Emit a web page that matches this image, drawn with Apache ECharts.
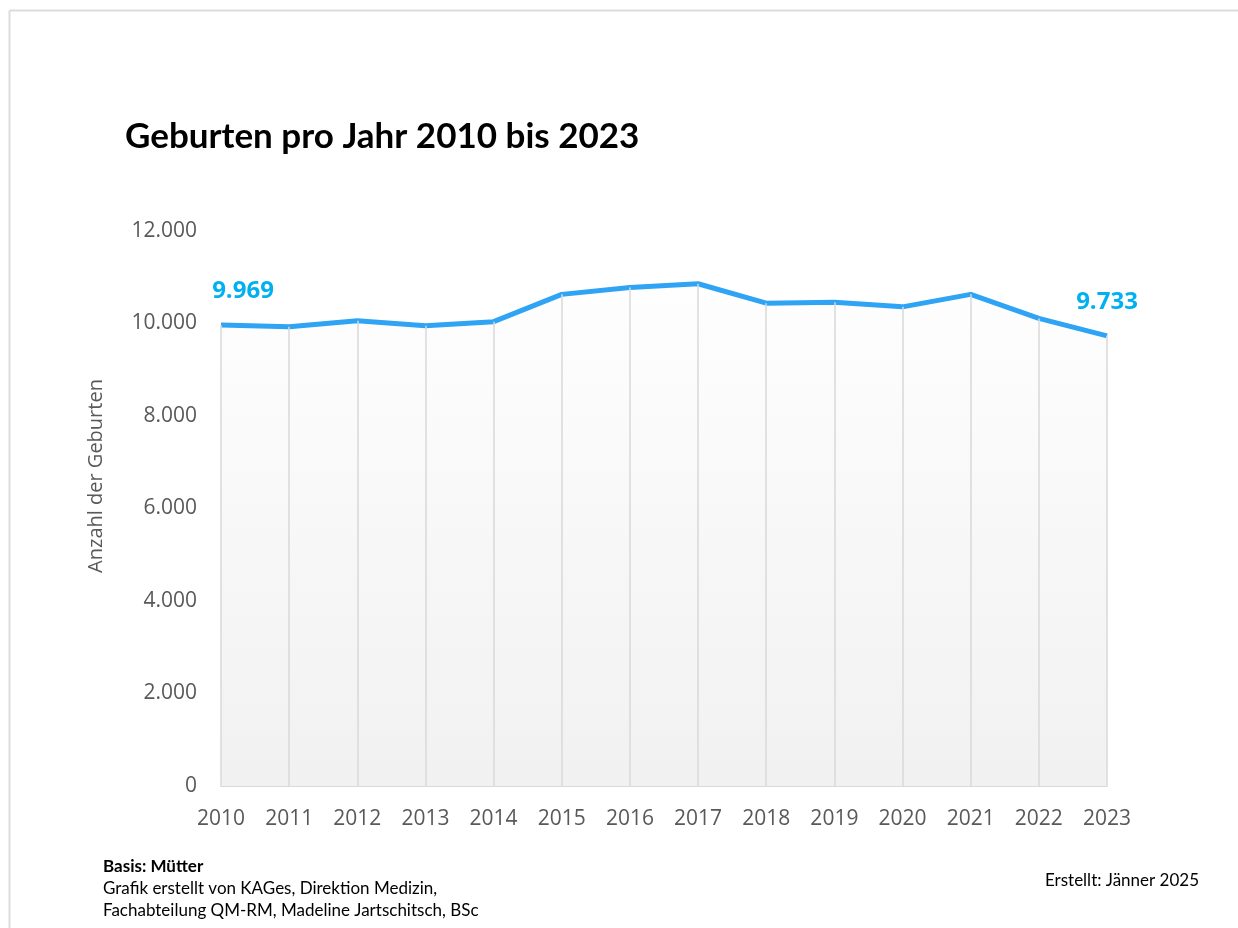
<!DOCTYPE html>
<html>
<head>
<meta charset="utf-8">
<script src="https://cdn.jsdelivr.net/npm/echarts@6/dist/echarts.min.js"></script>
<style>
html,body{margin:0;padding:0;background:#fff;}
#chart{width:1238px;height:928px;}
</style>
</head>
<body>
<div id="chart"></div>
<script>
const years = ['2010','2011','2012','2013','2014','2015','2016','2017','2018','2019','2020','2021','2022','2023'];
const births = [9969, 9930, 10060, 9950, 10040, 10630, 10780, 10860, 10440, 10460, 10360, 10630, 10110, 9733];
const yTicks = [0, 2000, 4000, 6000, 8000, 10000, 12000];
const labeledIdx = [0, 13];

const FONT_T = 'Lato, sans-serif';
const FONT = '"Open Sans", sans-serif';
function fmt(v){ return String(v).replace(/\B(?=(\d{3})+(?!\d))/g, '.'); }

const chart = echarts.init(document.getElementById('chart'), null, {renderer:'canvas'});

const lineData = births.map((v,i)=>{
  const d = {value:v};
  if (labeledIdx.includes(i)) {
    d.label = {
      show:true, position:'top', distance:22,
      offset: i===0 ? [22,0] : [0,0],
      formatter: p => fmt(p.value),
      color:'#00b0f0', fontSize:24, fontWeight:'bold', fontFamily:FONT
    };
  }
  return d;
});

const dropLines = births.map((v,i)=>[
  {coord:[i,0]},
  {coord:[i,v]}
]);

chart.setOption({
  animation:false,
  backgroundColor:'#ffffff',
  grid:{left:221, right:131, top:231, bottom:142},
  xAxis:{
    type:'category', data:years, boundaryGap:false,
    axisLine:{show:true, lineStyle:{color:'#d9d9d9', width:1}},
    axisTick:{show:false},
    splitLine:{show:false},
    axisLabel:{color:'#595959', fontSize:21, fontFamily:FONT, margin:23}
  },
  yAxis:{
    type:'value', min:yTicks[0], max:yTicks[yTicks.length-1], interval:2000,
    axisLine:{show:false}, axisTick:{show:false},
    splitLine:{show:false},
    axisLabel:{color:'#595959', fontSize:21, fontFamily:FONT, margin:24, padding:[4,0,0,0], formatter:v=>fmt(v)}
  },
  series:[
    {
      type:'line', data:births, symbol:'none', z:1, silent:true,
      lineStyle:{width:0, opacity:0},
      areaStyle:{
        color:new echarts.graphic.LinearGradient(0,0,0,1,[
          {offset:0,color:'#fefefe'},{offset:1,color:'#f1f1f1'}
        ]),
        opacity:1
      }
    },
    {
      type:'line', data:births, symbol:'none', z:2, silent:true,
      lineStyle:{width:0, opacity:0},
      markLine:{
        silent:true, symbol:['none','none'],
        label:{show:false},
        lineStyle:{color:'#d9d9d9', width:1.5, type:'solid'},
        data:dropLines
      }
    },
    {
      type:'line', data:lineData, z:3,
      symbol:'circle', symbolSize:0.01, showSymbol:true,
      lineStyle:{color:'#2fa4f5', width:5},
      itemStyle:{color:'#2fa4f5'}
    }
  ],
  graphic:[
    {type:'line', shape:{x1:9.5,y1:10.5,x2:1238,y2:10.5}, style:{stroke:'#dcdcdc', lineWidth:2}},
    {type:'line', shape:{x1:9.5,y1:10.5,x2:9.5,y2:928}, style:{stroke:'#dcdcdc', lineWidth:2}},
    {type:'text', left:125, top:119, style:{text:'Geburten pro Jahr 2010 bis 2023', font:'bold 35px '+FONT_T, fill:'#000'}},
    {type:'text', x:96, y:476, rotation:Math.PI/2, style:{text:'Anzahl der Geburten', font:'20px '+FONT, fill:'#595959', align:'center', verticalAlign:'middle'}},
    {type:'text', left:103, top:858, style:{text:'Basis: Mütter', font:'bold 17px '+FONT_T, fill:'#000'}},
    {type:'text', left:103, top:880, style:{text:'Grafik erstellt von KAGes, Direktion Medizin,', font:'17px '+FONT_T, fill:'#000'}},
    {type:'text', left:103, top:902, style:{text:'Fachabteilung QM-RM, Madeline Jartschitsch, BSc', font:'17px '+FONT_T, fill:'#000'}},
    {type:'text', left:1045, top:872, style:{text:'Erstellt: Jänner 2025', font:'17px '+FONT_T, fill:'#000'}}
  ]
});
</script>
</body>
</html>
